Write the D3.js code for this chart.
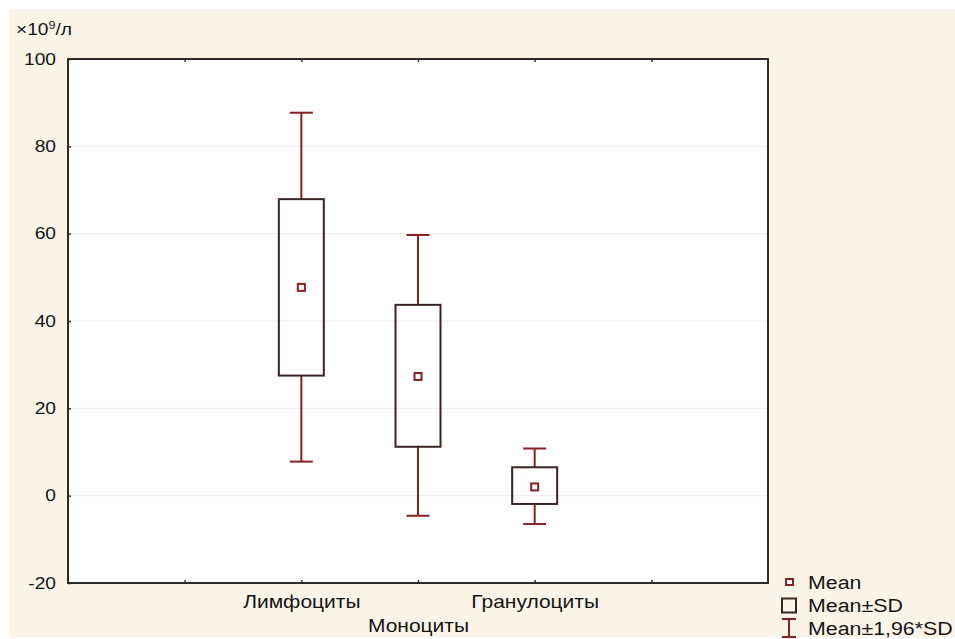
<!DOCTYPE html>
<html><head><meta charset="utf-8">
<script src="https://cdn.jsdelivr.net/npm/d3@7"></script>
<style>
html,body{margin:0;padding:0;background:#fff;}
text{font-family:"Liberation Sans",Arial,sans-serif;fill:#141414;}
</style></head>
<body>
<svg id="c" width="955" height="639"></svg>
<script>
const categories = ["Лимфоциты","Моноциты","Гранулоциты"];
const slots = ["s0","Лимфоциты","Моноциты","Гранулоциты","s4"];
const means = [47.7, 27.3, 2.0];
const sdLow = [27.5, 11.2, -1.9];
const sdHigh = [67.9, 43.7, 6.5];
const ciLow = [7.8, -4.6, -6.5];
const ciHigh = [87.7, 59.7, 10.8];
const yTicks = [-20, 0, 20, 40, 60, 80, 100];
const gridTicks = [0, 20, 40, 60, 80];
const yLabelParts = ["×10", "9", "/л"];
const legendLabels = ["Mean","Mean±SD","Mean±1,96*SD"];

const SX = 1.2; // horizontal text stretch seen in the picture
const svg = d3.select("#c");
svg.append("rect").attr("x",9).attr("y",9).attr("width",946).attr("height",628).attr("fill","#fdf4e8");

const L=68,R=768,T=59,B=583;
const x = d3.scalePoint().domain(slots).range([L,R]).padding(1);
const y = d3.scaleLinear().domain([-20,100]).range([B,T]);

svg.append("rect").attr("x",L).attr("y",T).attr("width",R-L).attr("height",B-T).attr("fill","#fff");

svg.append("g").selectAll("line").data(gridTicks).join("line")
  .attr("x1",L).attr("x2",R).attr("y1",d=>y(d)).attr("y2",d=>y(d))
  .attr("stroke","#ececec").attr("stroke-width",1);

// y axis
const gy = svg.append("g").attr("transform",`translate(${L},0)`)
  .call(d3.axisLeft(y).tickValues(yTicks).tickFormat(d=>String(d)).tickSize(-3).tickPadding(12));
gy.select(".domain").remove();
gy.selectAll(".tick line").attr("stroke","#333").attr("stroke-width",1.5);
gy.selectAll(".tick text").attr("font-size",16).attr("fill","#141414").style("font-family","Liberation Sans, Arial, sans-serif");
gy.selectAll(".tick text").each(function(){const t=d3.select(this);const xv=+t.attr("x");t.attr("transform",`scale(${SX},1)`).attr("x",xv/SX);});

// x axis bottom
const gx = svg.append("g").attr("transform",`translate(0,${B})`)
  .call(d3.axisBottom(x).tickSize(-3).tickFormat(d=>categories.includes(d)?d:""));
gx.select(".domain").remove();
gx.selectAll(".tick line").attr("stroke","#333").attr("stroke-width",1.5);
gx.selectAll(".tick text").attr("font-size",17.5).attr("fill","#141414").attr("dy",null)
  .attr("y",(d)=>d==="Моноциты"?49:25.5)
  .attr("transform",`scale(${SX},1)`).style("font-family","Liberation Sans, Arial, sans-serif");

// x axis top ticks
const gt = svg.append("g").attr("transform",`translate(0,${T})`)
  .call(d3.axisTop(x).tickSize(-3).tickFormat(""));
gt.select(".domain").remove();
gt.selectAll(".tick line").attr("stroke","#333").attr("stroke-width",1.5);

// frame
svg.append("rect").attr("x",L).attr("y",T).attr("width",R-L).attr("height",B-T)
  .attr("fill","none").attr("stroke","#2b2b2b").attr("stroke-width",2);

const data = categories.map((c,i)=>({c,m:means[i],sl:sdLow[i],sh:sdHigh[i],cl:ciLow[i],ch:ciHigh[i]}));
const boxW=45, capW=23, mk=7;
const wColor="#8a1f24", bColor="#3a2424";
const g = svg.append("g");
data.forEach(d=>{
  const cx=x(d.c);
  g.append("line").attr("x1",cx).attr("x2",cx).attr("y1",y(d.ch)).attr("y2",y(d.sh)).attr("stroke",wColor).attr("stroke-width",2);
  g.append("line").attr("x1",cx).attr("x2",cx).attr("y1",y(d.sl)).attr("y2",y(d.cl)).attr("stroke",wColor).attr("stroke-width",2);
  g.append("line").attr("x1",cx-capW/2).attr("x2",cx+capW/2).attr("y1",y(d.ch)).attr("y2",y(d.ch)).attr("stroke",wColor).attr("stroke-width",2);
  g.append("line").attr("x1",cx-capW/2).attr("x2",cx+capW/2).attr("y1",y(d.cl)).attr("y2",y(d.cl)).attr("stroke",wColor).attr("stroke-width",2);
  g.append("rect").attr("x",cx-boxW/2).attr("y",y(d.sh)).attr("width",boxW).attr("height",y(d.sl)-y(d.sh))
    .attr("fill","none").attr("stroke",bColor).attr("stroke-width",2);
  g.append("rect").attr("x",cx-mk/2).attr("y",y(d.m)-mk/2).attr("width",mk).attr("height",mk)
    .attr("fill","#fff").attr("stroke",wColor).attr("stroke-width",2);
});

// y label
const yl = svg.append("text").attr("x",16/SX).attr("y",35).attr("transform",`scale(${SX},1)`).attr("font-size",16);
yl.append("tspan").text(yLabelParts[0]);
yl.append("tspan").attr("font-size",10.5).attr("dy",-6).text(yLabelParts[1]);
yl.append("tspan").attr("dy",6).text(yLabelParts[2]);

// legend
const lg = svg.append("g");
lg.append("rect").attr("x",786).attr("y",579).attr("width",7).attr("height",6).attr("fill","#fff").attr("stroke",wColor).attr("stroke-width",2);
lg.append("rect").attr("x",782).attr("y",598.5).attr("width",14).attr("height",14).attr("fill","none").attr("stroke",bColor).attr("stroke-width",2);
lg.append("line").attr("x1",789).attr("x2",789).attr("y1",619).attr("y2",637).attr("stroke",wColor).attr("stroke-width",2);
lg.append("line").attr("x1",782).attr("x2",796).attr("y1",619).attr("y2",619).attr("stroke",wColor).attr("stroke-width",2);
lg.append("line").attr("x1",782).attr("x2",796).attr("y1",637).attr("y2",637).attr("stroke",wColor).attr("stroke-width",2);
lg.selectAll("text.lt").data(legendLabels).join("text").attr("class","lt")
  .attr("x",808/SX).attr("y",(d,i)=>589+i*23).attr("transform",`scale(${SX},1)`).attr("font-size",17.8).text(d=>d);
</script>
</body></html>
